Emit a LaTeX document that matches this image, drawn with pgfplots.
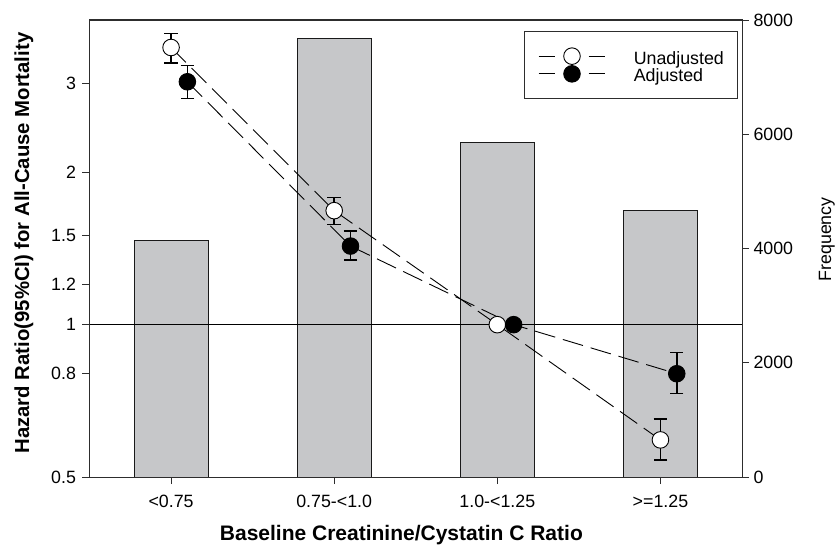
\documentclass[border=0pt]{standalone}
\usepackage{fontspec}
\setmainfont{Liberation Sans}
\usepackage{pgfplots}
\pgfplotsset{compat=1.18}
\definecolor{barfill}{RGB}{198,199,201}
\definecolor{framec}{RGB}{45,45,45}
\newcommand{\tickfont}{\fontsize{17.8}{17.8}\selectfont}
\begin{document}
\begin{tikzpicture}[x=1pt,y=1pt]
\useasboundingbox (0,0) rectangle (837,544);
% ---------- frequency bars (right axis) ----------
\begin{axis}[
  at={(89.5pt,67pt)}, anchor=south west,
  width=652.5pt, height=457pt, scale only axis,
  xmin=-0.5, xmax=3.5, ymin=0, ymax=8000,
  clip=false,
  xtick=\empty,
  ytick pos=right, yticklabel pos=right,
  ytick={0,2000,4000,6000,8000},
  tick align=outside, major tick length=7pt,
  tick style={line width=1pt, color=framec},
  axis line style={line width=1pt, color=framec},
  /pgf/number format/assume math mode=true,
  /pgf/number format/1000 sep={},
  yticklabel style={font=\tickfont, xshift=1pt},
]
\addplot[ybar, bar width=0.453, bar shift=0pt, fill=barfill, draw=black!90, line width=1pt]
  coordinates {(0,4137) (1,7680) (2,5852) (3,4662)};
\node[rotate=90, anchor=base, font=\tickfont, inner sep=0pt] at (rel axis cs:1.1364,0.52) {Frequency};
\end{axis}
% ---------- hazard ratios (left log axis) ----------
\begin{axis}[
  at={(89.5pt,67pt)}, anchor=south west,
  width=652.5pt, height=457pt, scale only axis,
  xmin=-0.5, xmax=3.5, ymode=log, ymin=0.5, ymax=4,
  xtick={0,1,2,3},
  xticklabels={{<0.75},{0.75-<1.0},{1.0-<1.25},{>=1.25}},
  ytick={0.5,0.8,1,1.2,1.5,2,3},
  yticklabels={0.5,0.8,1,1.2,1.5,2,3},
  minor ytick={},
  xtick pos=bottom, ytick pos=left,
  tick align=outside, major tick length=7pt,
  tick style={line width=1pt, color=framec},
  axis line style={line width=1pt, color=framec},
  /pgf/number format/assume math mode=true,
  yticklabel style={font=\tickfont, xshift=-3pt},
  xticklabel style={font=\tickfont, yshift=-8pt},
  xlabel={Baseline Creatinine/Cystatin C Ratio},
  xlabel style={at={(axis description cs:0.478,0)}, anchor=base, yshift=-63.5pt, font=\fontsize{21}{21}\selectfont\bfseries},
  ylabel={Hazard Ratio(95\%CI) for All-Cause Mortality},
  ylabel style={at={(axis description cs:-0.0927,0.512)}, anchor=base, font=\fontsize{20.3}{20.3}\selectfont\bfseries},
  legend style={at={(axis description cs:0.9934,0.9766)}, anchor=north east,
    draw=framec, line width=1pt, fill=white,
    inner xsep=13.3pt, inner ysep=16.1pt, row sep=0pt, column sep=28pt,
    font=\tickfont,
    nodes={inner sep=0pt, text height=16.9pt, text depth=0.8pt}},
  legend cell align=left,
  legend image code/.code={
    \draw[solid, line width=0.9pt, black] (0pt,0pt)--(16.7pt,0pt) (50pt,0pt)--(66.7pt,0pt);
    \draw[#1, solid, only marks] plot coordinates {(33.3pt,0pt)};
  },
]
\addplot[black, line width=1pt, forget plot] coordinates {(-0.5,1) (3.5,1)};
% Unadjusted
\addplot[black, line width=0.9pt, dash pattern=on 21pt off 8pt,
  mark=*, mark size=8.3pt, mark options={solid, fill=white, draw=black, line width=0.9pt},
  error bars/.cd, y dir=both, y explicit,
  error bar style={solid, line width=1.5pt, black},
  error mark options={solid, line width=1.5pt, mark size=6.7pt, rotate=90}]
  table[x=x, y=y, y error plus=ep, y error minus=em] {
x y ep em
0 3.53 0.23 0.24
1 1.68 0.104 0.104
2 1.00 0 0
3 0.592 0.059 0.052
};
\addlegendentry{Unadjusted}
% Adjusted
\addplot[black, line width=0.9pt, dash pattern=on 21pt off 8pt,
  mark=*, mark size=8.3pt, mark options={solid, fill=black, draw=black, line width=0.9pt},
  error bars/.cd, y dir=both, y explicit,
  error bar style={solid, line width=1.5pt, black},
  error mark options={solid, line width=1.5pt, mark size=6.7pt, rotate=90}]
  table[x=x, y=y, y error plus=ep, y error minus=em] {
x y ep em
0.1 3.02 0.23 0.22
1.1 1.43 0.10 0.087
2.1 1.00 0 0
3.1 0.80 0.081 0.069
};
\addlegendentry{Adjusted}
\end{axis}
\end{tikzpicture}
\end{document}
